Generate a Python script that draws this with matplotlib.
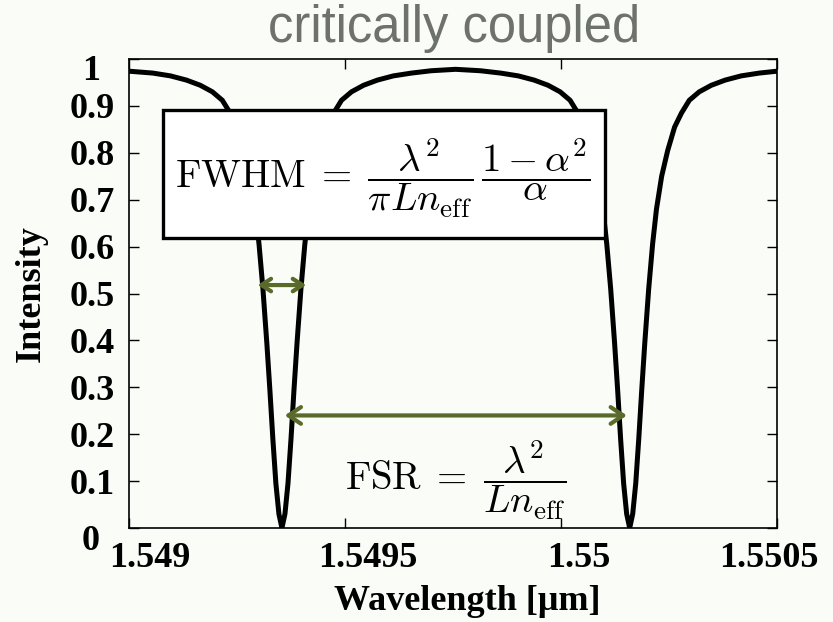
import matplotlib
matplotlib.use("Agg")
import matplotlib.pyplot as plt
from matplotlib.patches import Rectangle
from matplotlib.transforms import ScaledTranslation

# transmission of the ring, two resonances inside the window
wavelength = [
    1.549000, 1.549055, 1.549096, 1.549133, 1.549165, 1.549193, 1.549216,
    1.549234, 1.549250, 1.549266, 1.549280, 1.549292, 1.549301, 1.549310,
    1.549319, 1.549326, 1.549333, 1.549340, 1.549347, 1.549354,
    1.549361, 1.549368, 1.549375, 1.549382, 1.549389, 1.549398, 1.549407,
    1.549416, 1.549428, 1.549442, 1.549458, 1.549474, 1.549492, 1.549515,
    1.549543, 1.549575, 1.549612, 1.549654, 1.549700, 1.549756,
    1.549813, 1.549860, 1.549901, 1.549938, 1.549970, 1.549998, 1.550021,
    1.550039, 1.550055, 1.550071, 1.550085, 1.550097, 1.550106, 1.550115,
    1.550124, 1.550131, 1.550138, 1.550145, 1.550152, 1.550159,
    1.550166, 1.550173, 1.550180, 1.550187, 1.550194, 1.550203, 1.550212,
    1.550221, 1.550233, 1.550247, 1.550263, 1.550279, 1.550297, 1.550320,
    1.550348, 1.550380, 1.550417, 1.550459, 1.550500,
]
intensity = [
    0.974, 0.970, 0.964, 0.955, 0.944, 0.930, 0.912,
    0.885, 0.855, 0.805, 0.750, 0.680, 0.605, 0.510,
    0.395, 0.296, 0.190, 0.095, 0.030, 0.000,
    0.030, 0.095, 0.190, 0.296, 0.395, 0.510, 0.605,
    0.680, 0.750, 0.805, 0.855, 0.885, 0.912, 0.930,
    0.944, 0.955, 0.964, 0.970, 0.975, 0.978,
    0.975, 0.970, 0.964, 0.955, 0.944, 0.930, 0.912,
    0.885, 0.855, 0.805, 0.750, 0.680, 0.605, 0.510,
    0.395, 0.296, 0.190, 0.095, 0.030, 0.000,
    0.030, 0.095, 0.190, 0.296, 0.395, 0.510, 0.605,
    0.680, 0.750, 0.805, 0.855, 0.885, 0.912, 0.930,
    0.944, 0.955, 0.964, 0.970, 0.974,
]
resonances = [1.549354, 1.550159]

x_ticks = [1.549, 1.5495, 1.55, 1.5505]
x_tick_labels = ["1.549", "1.5495", "1.55", "1.5505"]
y_ticks = [0, 0.1, 0.2, 0.3, 0.4, 0.5, 0.6, 0.7, 0.8, 0.9, 1]
y_tick_labels = ["0", "0.1", "0.2", "0.3", "0.4", "0.5", "0.6", "0.7", "0.8", "0.9", "1"]

# arrows marking the linewidth and the free spectral range
fwhm_level = 0.518
fwhm_left, fwhm_right = 1.549291, 1.549417
fsr_level = 0.24

bg = "#f9fcf7"
arrow_col = "#5a6a2a"
serif = ["Liberation Serif", "DejaVu Serif"]

plt.rcParams["mathtext.fontset"] = "cm"

fig = plt.figure(figsize=(8.33, 6.22), dpi=100, facecolor=bg)
ax = fig.add_axes([129 / 833, 94 / 622, 648 / 833, 469 / 622])
ax.set_facecolor(bg)

ax.plot(wavelength, intensity, color="black", lw=3.6,
        solid_joinstyle="round", solid_capstyle="round", zorder=2)

ax.set_xlim(1.549, 1.5505)
ax.set_ylim(0, 1)
ax.set_xticks(x_ticks, x_tick_labels)
ax.set_yticks(y_ticks, y_tick_labels)
ax.tick_params(direction="in", length=7, width=1, top=True, right=True,
               labelsize=26)
ax.tick_params(axis="x", pad=10)
ax.tick_params(axis="y", pad=10)
for lab in ax.get_xticklabels() + ax.get_yticklabels():
    lab.set_family(serif)
    lab.set_fontweight("bold")
for sp in ax.spines.values():
    sp.set_linewidth(1.2)

# nudge a few tick labels the way they sit in the figure
shifts_x = [21, 23, 18, -8]
for lab, dx in zip(ax.get_xticklabels(), shifts_x):
    lab.set_transform(lab.get_transform()
                      + ScaledTranslation(dx / 100, 0, fig.dpi_scale_trans))
ylabs = ax.get_yticklabels()
for lab in (ylabs[0], ylabs[-1]):
    lab.set_transform(lab.get_transform()
                      + ScaledTranslation(-15 / 100, -9 / 100, fig.dpi_scale_trans))

ax.set_ylabel("Intensity", family=serif, fontweight="bold", fontsize=26)
ax.yaxis.set_label_coords(-0.125, 0.5)
fig.text(467 / 833, 1 - 601 / 622, "Wavelength [\u03bcm]", family=serif,
         fontweight="bold", fontsize=26, ha="center", va="center")

fig.text(454 / 833, 1 - 42 / 622, "critically coupled",
         family=["Liberation Sans", "DejaVu Sans"], fontsize=36.5,
         color="#6e726d", ha="center", va="baseline")

# FWHM formula in a white box laid over the curve
box = Rectangle((34 / 648, 290 / 469), 442 / 648, 128 / 469,
                transform=ax.transAxes, facecolor="white", edgecolor="black",
                lw=2.4, zorder=4)
ax.add_patch(box)
ax.text(254 / 648, 350 / 469,
        r"$\mathrm{FWHM}\;=\;\dfrac{\lambda^2}{\pi L n_{\rm eff}}\,\dfrac{1-\alpha^2}{\alpha}$",
        transform=ax.transAxes, fontsize=28, ha="center", va="center", zorder=5)

ax.annotate("", xy=(fwhm_left, fwhm_level), xytext=(fwhm_right, fwhm_level),
            arrowprops=dict(arrowstyle="<->,head_length=0.7,head_width=0.45",
                            color=arrow_col, lw=3), zorder=6)
ax.annotate("", xy=(resonances[0], fsr_level), xytext=(resonances[1], fsr_level),
            arrowprops=dict(arrowstyle="<->,head_length=0.9,head_width=0.6",
                            color=arrow_col, lw=3), zorder=6)

ax.text(327 / 648, 48 / 469,
        r"$\mathrm{FSR}\;=\;\dfrac{\lambda^2}{L n_{\rm eff}}$",
        transform=ax.transAxes, fontsize=28, ha="center", va="center", zorder=5)

fig.savefig("out.png", dpi=100, facecolor=bg)
